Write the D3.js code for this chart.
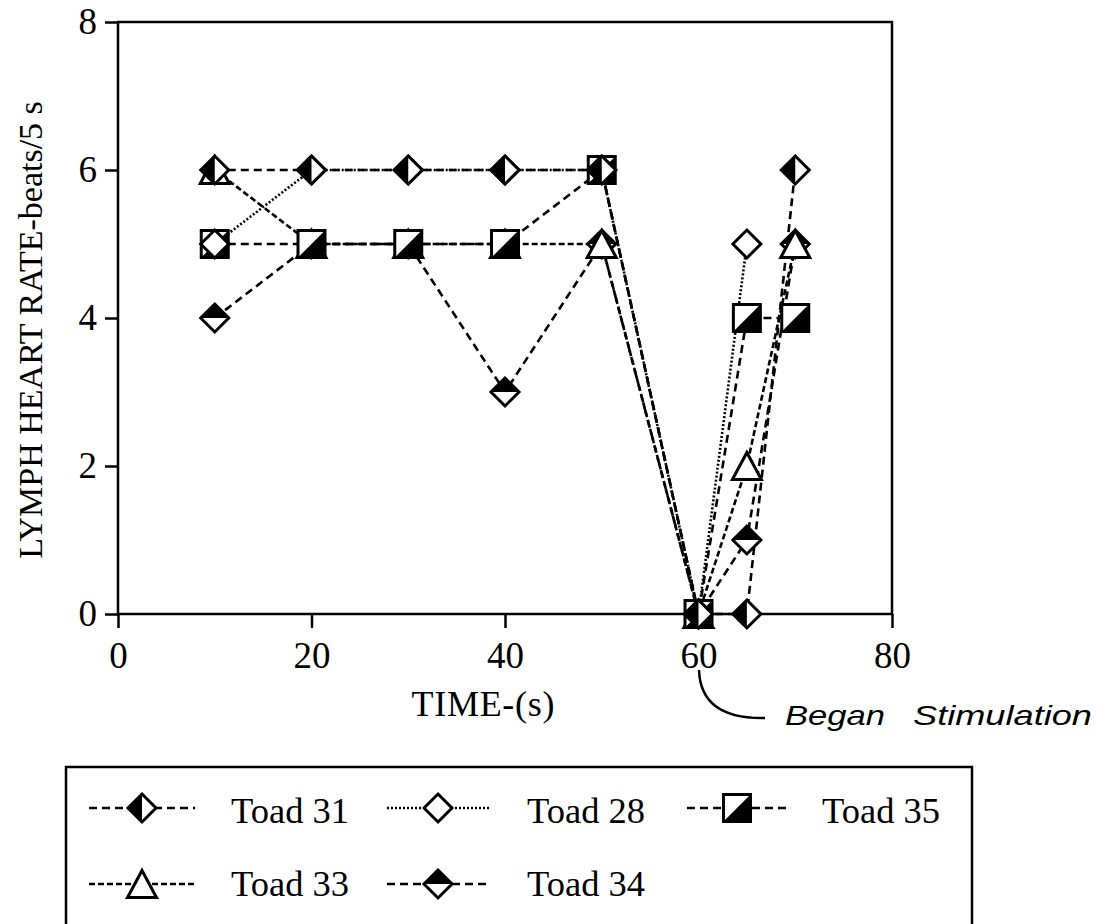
<!DOCTYPE html>
<html><head><meta charset="utf-8">
<script src="https://cdn.jsdelivr.net/npm/d3@7/dist/d3.min.js"></script>
<style>
html,body{margin:0;padding:0;background:#fff;}
svg{display:block;}
</style></head>
<body>
<svg id="c" width="1108" height="924"></svg>
<script>
// ---- data ----
const times = [10, 20, 30, 40, 50, 60, 65, 70];
const times28 = [10, 20, 30, 40, 50, 60, 65];
const toad31 = [6, 6, 6, 6, 6, 0, 0, 6];
const toad28 = [5, 6, 6, 6, 6, 0, 5];
const toad35 = [5, 5, 5, 5, 6, 0, 4, 4];
const toad33 = [6, 5, 5, 5, 5, 0, 2, 5];
const toad34 = [4, 5, 5, 3, 5, 0, 1, 5];
const xTicks = [0, 20, 40, 60, 80];
const yTicks = [0, 2, 4, 6, 8];
const seriesNames = ["Toad 31", "Toad 28", "Toad 35", "Toad 33", "Toad 34"];

const svg = d3.select("#c");
const serif = "'Liberation Serif','Times New Roman',serif";
const x = d3.scaleLinear().domain([0, 80]).range([118, 892]);
const y = d3.scaleLinear().domain([0, 8]).range([614, 22]);

// marker shapes
const R = 14, S = 13.5;
const shapes = {
  halfLeftDiamond: g => {
    g.append("path").attr("d", `M0,${-R}L${R},0L0,${R}L${-R},0Z`).attr("fill", "#fff");
    g.append("path").attr("d", `M0,${-R}L${-R},0L0,${R}Z`).attr("fill", "#000");
    g.append("path").attr("d", `M0,${-R}L${R},0L0,${R}L${-R},0Z`).attr("fill", "none").attr("stroke", "#000").attr("stroke-width", 3);
  },
  openDiamond: g => {
    g.append("path").attr("d", `M0,${-R}L${R},0L0,${R}L${-R},0Z`).attr("fill", "#fff").attr("stroke", "#000").attr("stroke-width", 3);
  },
  halfSquare: g => {
    g.append("rect").attr("x", -S).attr("y", -S).attr("width", 2 * S).attr("height", 2 * S).attr("fill", "#fff");
    g.append("path").attr("d", `M${S},${-S}L${S},${S}L${-S},${S}Z`).attr("fill", "#000");
    g.append("rect").attr("x", -S).attr("y", -S).attr("width", 2 * S).attr("height", 2 * S).attr("fill", "none").attr("stroke", "#000").attr("stroke-width", 3);
  },
  openTriangle: g => {
    g.append("path").attr("d", `M0,-13.5L14.5,13.5L-14.5,13.5Z`).attr("fill", "#fff").attr("stroke", "#000").attr("stroke-width", 3).attr("stroke-linejoin", "miter");
  },
  halfTopDiamond: g => {
    g.append("path").attr("d", `M0,${-R}L${R},0L0,${R}L${-R},0Z`).attr("fill", "#fff");
    g.append("path").attr("d", `M0,${-R}L${R},0L${-R},0Z`).attr("fill", "#000");
    g.append("path").attr("d", `M0,${-R}L${R},0L0,${R}L${-R},0Z`).attr("fill", "none").attr("stroke", "#000").attr("stroke-width", 3);
  }
};

const series = [
  { name: seriesNames[4], t: times, v: toad34, shape: "halfTopDiamond", dash: "8,5" },
  { name: seriesNames[3], t: times, v: toad33, shape: "openTriangle", dash: "6,3" },
  { name: seriesNames[2], t: times, v: toad35, shape: "halfSquare", dash: "8,5" },
  { name: seriesNames[1], t: times28, v: toad28, shape: "openDiamond", dash: "2,2" },
  { name: seriesNames[0], t: times, v: toad31, shape: "halfLeftDiamond", dash: "8,5" }
];

// axes
const xAxis = d3.axisBottom(x).tickValues(xTicks).tickSize(14).tickSizeOuter(0).tickPadding(14);
const yAxis = d3.axisLeft(y).tickValues(yTicks).tickSize(13).tickSizeOuter(0).tickPadding(8);
const gx = svg.append("g").attr("transform", "translate(0,614)").call(xAxis);
const gy = svg.append("g").attr("transform", "translate(118,0)").call(yAxis);
[gx, gy].forEach(g => {
  g.select(".domain").remove();
  g.selectAll("line").attr("stroke", "#000").attr("stroke-width", 2.5);
  g.selectAll("text").attr("font-family", serif).attr("font-size", 37).attr("fill", "#000");
});

// frame
svg.append("rect").attr("x", x(0)).attr("y", y(8)).attr("width", x(80) - x(0)).attr("height", y(0) - y(8))
  .attr("fill", "none").attr("stroke", "#000").attr("stroke-width", 2.5);

// lines
const line = d3.line();
series.forEach(s => {
  svg.append("path")
    .attr("d", line(s.t.map((t, i) => [x(t), y(s.v[i])])))
    .attr("fill", "none").attr("stroke", "#000").attr("stroke-width", 2.6)
    .attr("stroke-dasharray", s.dash);
});
// markers
series.forEach(s => {
  s.t.forEach((t, i) => {
    const g = svg.append("g").attr("transform", `translate(${x(t)},${y(s.v[i])})`);
    shapes[s.shape](g);
  });
});

// axis titles
svg.append("text").attr("x", 483).attr("y", 716).attr("text-anchor", "middle")
  .attr("font-family", serif).attr("font-size", 36).attr("textLength", 143).text("TIME-(s)");
svg.append("text").attr("transform", "translate(42,330) rotate(-90)").attr("text-anchor", "middle")
  .attr("font-family", serif).attr("font-size", 34).text("LYMPH HEART RATE-beats/5 s");

// annotation
svg.append("path").attr("d", "M699,670 C700,700 718,719 765,718").attr("fill", "none").attr("stroke", "#000").attr("stroke-width", 2.5);
const sans = "'Liberation Sans',Arial,sans-serif";
svg.append("text").attr("x", 785).attr("y", 725).attr("font-family", sans).attr("font-style", "italic")
  .attr("font-size", 28).attr("textLength", 100).attr("lengthAdjust", "spacingAndGlyphs").text("Began");
svg.append("text").attr("x", 913).attr("y", 725).attr("font-family", sans).attr("font-style", "italic")
  .attr("font-size", 28).attr("textLength", 179).attr("lengthAdjust", "spacingAndGlyphs").text("Stimulation");

// legend
svg.append("rect").attr("x", 66).attr("y", 767).attr("width", 906).attr("height", 200)
  .attr("fill", "none").attr("stroke", "#000").attr("stroke-width", 2.5);
const legendItems = [
  { s: series[4], cx: 142, cy: 808, x0: 89, x1: 195, tx: 231, ty: 823 },
  { s: series[3], cx: 438, cy: 808, x0: 387, x1: 490, tx: 527, ty: 823 },
  { s: series[2], cx: 737, cy: 808, x0: 687, x1: 790, tx: 822, ty: 823 },
  { s: series[1], cx: 142, cy: 884, x0: 89, x1: 195, tx: 231, ty: 896 },
  { s: series[0], cx: 438, cy: 884, x0: 387, x1: 490, tx: 527, ty: 896 }
];
legendItems.forEach(d => {
  svg.append("line").attr("x1", d.x0).attr("x2", d.x1).attr("y1", d.cy).attr("y2", d.cy)
    .attr("stroke", "#000").attr("stroke-width", 2.4).attr("stroke-dasharray", d.s.dash);
  const g = svg.append("g").attr("transform", `translate(${d.cx},${d.cy})`);
  shapes[d.s.shape](g);
  svg.append("text").attr("x", d.tx).attr("y", d.ty).attr("font-family", serif).attr("font-size", 36.5).text(d.s.name);
});
</script>
</body></html>
